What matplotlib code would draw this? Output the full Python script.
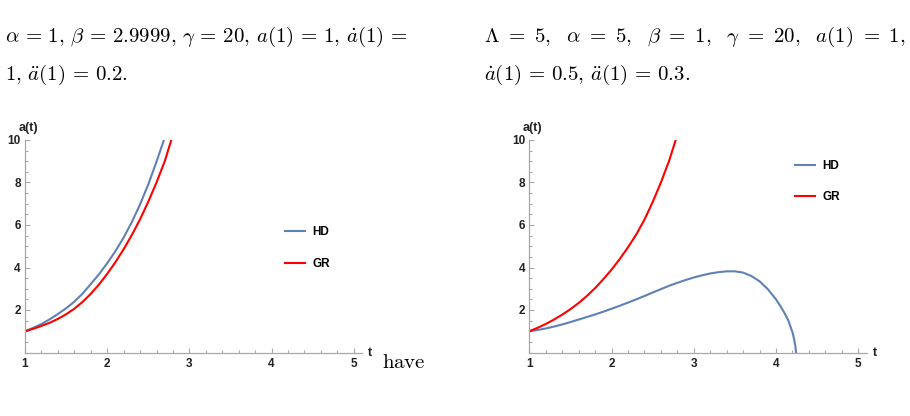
import matplotlib
matplotlib.use('Agg')
import matplotlib.pyplot as plt
from matplotlib.ticker import MultipleLocator

plt.rcParams['mathtext.fontset'] = 'cm'
plt.rcParams['font.family'] = ['Liberation Sans', 'DejaVu Sans']

# left panel: alpha=1, beta=2.9999, gamma=20
t_hd_left = [1.0, 1.1, 1.2, 1.3, 1.4, 1.5, 1.6, 1.7, 1.8, 1.9, 2.0, 2.1, 2.2, 2.3, 2.4, 2.5, 2.6, 2.69]
a_hd_left = [1.0, 1.16, 1.34, 1.56, 1.81, 2.08, 2.39, 2.77, 3.22, 3.68, 4.2, 4.77, 5.41, 6.14, 6.97, 7.91, 8.98, 10.0]
t_gr_left = [1.0, 1.1, 1.2, 1.3, 1.4, 1.5, 1.6, 1.7, 1.8, 1.9, 2.0, 2.1, 2.2, 2.3, 2.4, 2.5, 2.6, 2.7, 2.78]
a_gr_left = [1.0, 1.115, 1.25, 1.4, 1.58, 1.8, 2.06, 2.38, 2.76, 3.2, 3.7, 4.25, 4.86, 5.53, 6.27, 7.1, 8.0, 9.0, 10.0]

# right panel: Lambda=5, alpha=5, beta=1, gamma=20
t_hd_right = [1.0, 1.1, 1.2, 1.3, 1.4, 1.5, 1.6, 1.7, 1.8, 1.9, 2.0, 2.1, 2.2, 2.3, 2.4, 2.5,
              2.6, 2.7, 2.8, 2.9, 3.0, 3.1, 3.2, 3.3, 3.4, 3.5, 3.6, 3.7, 3.8, 3.9, 4.0,
              4.05, 4.1, 4.15, 4.2, 4.22, 4.235, 4.243]
a_hd_right = [1.0, 1.06, 1.13, 1.22, 1.32, 1.43, 1.55, 1.67, 1.79, 1.92, 2.06, 2.2, 2.35, 2.5, 2.66, 2.82,
              2.98, 3.14, 3.28, 3.41, 3.53, 3.63, 3.72, 3.78, 3.82, 3.82, 3.76, 3.6, 3.35, 2.98, 2.5,
              2.2, 1.88, 1.5, 0.95, 0.62, 0.3, 0.0]
t_gr_right = [1.0, 1.1, 1.2, 1.3, 1.4, 1.5, 1.6, 1.7, 1.8, 1.9, 2.0, 2.1, 2.2, 2.3, 2.4, 2.5, 2.6, 2.7, 2.78]
a_gr_right = [1.0, 1.16, 1.34, 1.55, 1.78, 2.04, 2.33, 2.66, 3.03, 3.45, 3.9, 4.4, 4.95, 5.55, 6.25, 7.08, 8.0, 9.02, 10.0]

x_ticks = [1, 2, 3, 4, 5]
y_ticks = [2, 4, 6, 8, 10]

blue = '#5E81B5'
red = '#FF0000'
grey = '#A8A8A8'
ink = '#222222'

fig = plt.figure(figsize=(9.1, 4.16), dpi=100)

def style(ax):
    ax.set_xlim(1, 5.1)
    ax.set_ylim(0, 10)
    for s in ['top', 'right']:
        ax.spines[s].set_visible(False)
    for s in ['left', 'bottom']:
        ax.spines[s].set_color(grey)
        ax.spines[s].set_linewidth(0.9)
    ax.set_xticks(x_ticks)
    ax.set_yticks(y_ticks)
    ax.xaxis.set_minor_locator(MultipleLocator(0.2))
    ax.yaxis.set_minor_locator(MultipleLocator(0.5))
    ax.tick_params(which='both', direction='in', color=grey, width=0.8)
    ax.tick_params(which='major', length=3.5, labelsize=8.5)
    ax.tick_params(axis='x', which='major', pad=4)
    ax.tick_params(axis='y', which='major', pad=3)
    ax.tick_params(which='minor', length=2)
    for lab in ax.get_xticklabels() + ax.get_yticklabels():
        lab.set_fontweight('bold')
        lab.set_color(ink)
    ax.text(0.01, 1.03, 'a(t)', transform=ax.transAxes, fontsize=9,
            fontweight='bold', ha='center', va='bottom', color=ink)
    ax.text(1.018, 0.0, 't', transform=ax.transAxes, fontsize=9,
            fontweight='bold', ha='left', va='center', color=ink)

legend_kw = dict(loc='upper left', frameon=False, borderpad=0, borderaxespad=0,
                 handlelength=1.7, handletextpad=0.6, labelspacing=1.64,
                 prop={'weight': 'bold', 'size': 8.5})

ax1 = fig.add_axes([25 / 910, 63.5 / 416, 337 / 910, 212.5 / 416])
ax1.plot(t_hd_left, a_hd_left, color=blue, lw=1.5, label='HD')
ax1.plot(t_gr_left, a_gr_left, color=red, lw=1.5, label='GR')
style(ax1)
ax1.legend(bbox_to_anchor=(0.7715, 0.594), **legend_kw)

ax2 = fig.add_axes([529.3 / 910, 63.5 / 416, 337.2 / 910, 212.5 / 416])
ax2.plot(t_hd_right, a_hd_right, color=blue, lw=1.5, label='HD')
ax2.plot(t_gr_right, a_gr_right, color=red, lw=1.5, label='GR')
style(ax2)
ax2.legend(bbox_to_anchor=(0.788, 0.906), **legend_kw)

# surrounding text from the paper
fs = 15
fig.text(5 / 910, 1 - 41.7 / 416,
         r'$\alpha \,=\, 1,\, \beta \,=\, 2.9999,\, \gamma \,=\, 20,\, a(1) \,=\, 1,\, \dot{a}(1) \,=$',
         fontsize=fs, va='baseline', ha='left')
fig.text(5 / 910, 1 - 80 / 416, r'$1,\, \ddot{a}(1) \,=\, 0.2.$',
         fontsize=fs, va='baseline', ha='left')
fig.text(484 / 910, 1 - 41.7 / 416,
         r'$\Lambda\ =\ 5,\ \ \alpha\ =\ 5,\ \ \beta\ =\ 1,\ \ \gamma\ =\ 20,\ \ a(1)\ =\ 1,$',
         fontsize=fs, va='baseline', ha='left')
fig.text(484 / 910, 1 - 80 / 416, r'$\dot{a}(1) \,=\, 0.5,\, \ddot{a}(1) \,=\, 0.3.$',
         fontsize=fs, va='baseline', ha='left')
fig.text(382 / 910, 1 - 368 / 416, r'$\mathrm{have}$', fontsize=fs,
         va='baseline', ha='left')

fig.savefig('out.png', dpi=100)
